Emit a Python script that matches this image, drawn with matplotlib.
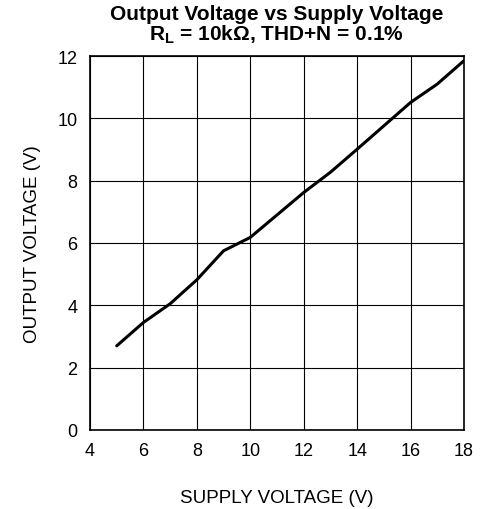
import matplotlib
matplotlib.use("Agg")
import matplotlib.pyplot as plt

plt.rcParams['font.family'] = ['Liberation Sans', 'DejaVu Sans']

supply_v = [5, 6, 7, 8, 9, 10, 11, 12, 13, 14, 15, 16, 17, 18]
output_v = [2.70, 3.45, 4.05, 4.82, 5.75, 6.18, 6.90, 7.62, 8.27, 9.01, 9.76, 10.51, 11.10, 11.85]

xticks = [4, 6, 8, 10, 12, 14, 16, 18]
yticks = [0, 2, 4, 6, 8, 10, 12]

fig = plt.figure(figsize=(4.87, 5.10), dpi=100)
ax = fig.add_axes([90/487, 1-431/510, (464-90)/487, (431-57)/510])

ax.plot(supply_v, output_v, color='black', linewidth=2.2, solid_capstyle='round')
ax.set_xlim(4, 18)
ax.set_ylim(0, 12)
ax.set_xticks(xticks)
ax.set_yticks(yticks)
ax.grid(True, color='black', linewidth=0.8)
ax.tick_params(length=0, labelsize=13, pad=9)
for s in ax.spines.values():
    s.set_linewidth(1.2)

ax.set_xlabel('SUPPLY VOLTAGE (V)', fontsize=13.5, labelpad=21)
ax.set_ylabel('OUTPUT VOLTAGE (V)', fontsize=13.5, labelpad=12)

fig.text(0.568, 1-5/510, 'Output Voltage vs Supply Voltage', ha='center', va='top',
         fontsize=15, fontweight='bold')
fig.text(0.568, 1-23/510, r'R$_\mathregular{L}$ = 10kΩ, THD+N = 0.1%', ha='center', va='top',
         fontsize=15, fontweight='bold')

fig.savefig('out.png', dpi=100)
